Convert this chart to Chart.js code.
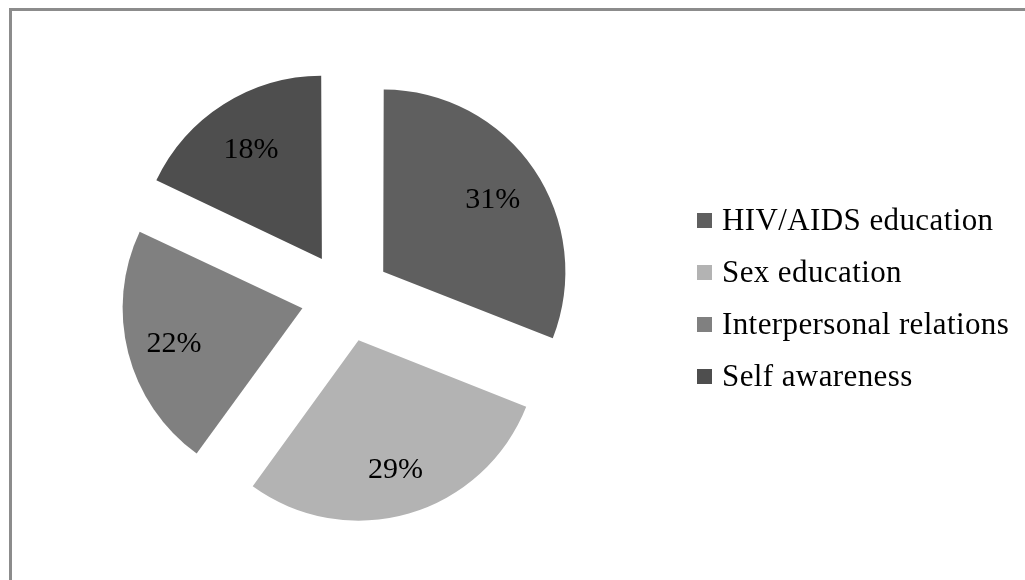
<!DOCTYPE html>
<html>
<head>
<meta charset="utf-8">
<script src="https://cdn.jsdelivr.net/npm/chart.js@4.4.1/dist/chart.umd.min.js"></script>
<style>
  html, body { margin: 0; padding: 0; background: #fff; overflow: hidden; }
  body { width: 1025px; height: 580px; position: relative; font-family: "Liberation Serif", "Times New Roman", serif; }
  #frame { position: absolute; left: 9px; top: 8px; width: 1100px; height: 700px; border-left: 3px solid #8c8c8c; border-top: 3px solid #8c8c8c; }
  #pie { position: absolute; left: 0; top: 0; }
  .item { position: absolute; left: 697px; height: 52px; display: flex; align-items: center; font-size: 31px; letter-spacing: 0.4px; color: #000; white-space: nowrap; }
  .box { width: 15px; height: 15px; margin-right: 10px; }
</style>
</head>
<body>
<div id="frame"></div>
<canvas id="pie" width="1025" height="580"></canvas>
<div id="legend"></div>
<script>
  // Темы программы
  const labels = ["HIV/AIDS education", "Sex education", "Interpersonal relations", "Self awareness"];
  const values = [31, 29, 22, 18];
  const colors = ["#5f5f5f", "#b3b3b3", "#808080", "#4e4e4e"];

  // Легенда справа
  const legend = document.getElementById("legend");
  labels.forEach((name, i) => {
    const row = document.createElement("div");
    row.className = "item";
    row.style.top = (194 + i * 52) + "px";
    row.innerHTML = '<span class="box" style="background:' + colors[i] + '"></span><span>' + name + '</span>';
    legend.appendChild(row);
  });

  // Подписи процентов внутри секторов
  // (ArcElement сдвигает сектор на offset / 4)
  const sliceLabels = {
    id: "sliceLabels",
    afterDatasetsDraw(chart) {
      const ctx = chart.ctx;
      const meta = chart.getDatasetMeta(0);
      ctx.save();
      ctx.font = '30px "Liberation Serif"';
      ctx.fillStyle = "#000";
      ctx.textAlign = "center";
      ctx.textBaseline = "middle";
      meta.data.forEach((arc, i) => {
        const p = arc.getProps(["x", "y", "startAngle", "endAngle", "outerRadius"], true);
        const mid = (p.startAngle + p.endAngle) / 2;
        const d = arc.options.offset / 4 + p.outerRadius * 0.74;
        ctx.fillText(values[i] + "%", p.x + Math.cos(mid) * d, p.y + Math.sin(mid) * d + 3);
      });
      ctx.restore();
    }
  };

  // Разнесённая круговая диаграмма
  new Chart(document.getElementById("pie"), {
    type: "pie",
    data: {
      labels: labels,
      datasets: [{ data: values, backgroundColor: colors, borderWidth: 0, offset: 180 }]
    },
    options: {
      responsive: false,
      animation: false,
      radius: 179,
      layout: { padding: { left: 0, right: 333, top: 14, bottom: 0 } },
      plugins: { legend: { display: false }, tooltip: { enabled: false } }
    },
    plugins: [sliceLabels]
  });
</script>
</body>
</html>
